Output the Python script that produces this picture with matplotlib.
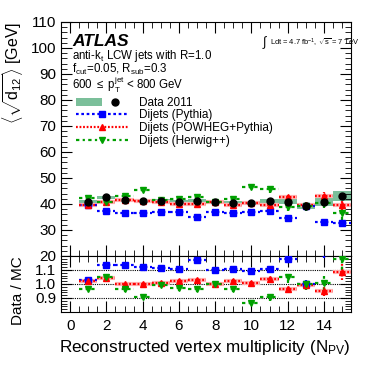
import numpy as np
import matplotlib
matplotlib.use('Agg')
import matplotlib.pyplot as plt
from matplotlib.lines import Line2D
from matplotlib.patches import Patch
from matplotlib.legend_handler import HandlerTuple
from matplotlib.ticker import MultipleLocator, FixedLocator

plt.rcParams['font.family'] = ['Liberation Sans', 'DejaVu Sans']
plt.rcParams['mathtext.fontset'] = 'custom'
plt.rcParams['mathtext.rm'] = 'Liberation Sans'
plt.rcParams['mathtext.it'] = 'Liberation Sans:italic'
plt.rcParams['mathtext.bf'] = 'Liberation Sans:bold'

# number of reconstructed vertices (bin centres)
npv = [1, 2, 3, 4, 5, 6, 7, 8, 9, 10, 11, 12, 13, 14, 15]

# data 2011: mean sqrt(d12), stat. error, systematic band half-height
data = [40.6, 42.5, 41.5, 41.1, 41.2, 40.8, 41.2, 40.7, 40.4, 40.4, 41.2, 40.9, 39.2, 40.7, 43.0]
data_stat = [0.3, 0.3, 0.3, 0.3, 0.3, 0.3, 0.3, 0.3, 0.3, 0.4, 0.4, 0.5, 0.6, 0.8, 1.0]
data_syst = [0.8, 0.7, 0.7, 0.6, 0.6, 0.6, 0.6, 0.6, 0.6, 0.7, 0.8, 1.0, 1.2, 1.6, 1.9]

# Monte Carlo
pythia = [39.6, 37.4, 36.5, 36.6, 37.1, 36.8, 35.1, 37.1, 36.5, 37.1, 37.3, 34.8, 39.2, 33.1, 32.5]
pythia_err = [0.4, 0.4, 0.4, 0.4, 0.4, 0.4, 0.5, 0.5, 0.5, 0.6, 0.6, 0.8, 1.0, 1.2, 1.5]
powheg = [39.8, 40.9, 41.5, 41.1, 40.9, 40.0, 40.1, 40.7, 39.6, 40.2, 39.8, 42.5, 39.6, 43.0, 39.6]
powheg_err = [0.4, 0.4, 0.4, 0.5, 0.5, 0.5, 0.6, 0.6, 0.7, 0.7, 0.8, 1.0, 1.2, 1.5, 2.0]
herwig = [42.2, 40.6, 43.2, 45.4, 41.5, 42.0, 42.8, 40.7, 41.9, 46.6, 45.6, 38.9, 39.2, 40.5, 36.4]
herwig_err = [0.6, 0.6, 0.7, 0.7, 0.7, 0.8, 0.9, 0.9, 1.0, 1.0, 1.2, 1.6, 1.8, 2.2, 2.5]

GREEN_BAND = '#7bbf9a'
C_PYTHIA = '#0000ff'
C_POWHEG = '#ff0000'
C_HERWIG = '#00a000'

LS_PYTHIA = (0, (1.2, 1.2))
LS_POWHEG = (0, (0.8, 0.8))
LS_HERWIG = (0, (1.5, 1.5, 1, 1.5))

x = np.array(npv, dtype=float)
data = np.array(data)


def draw_mc(ax, xv, yv, err, color, ls, marker, ms, pink=False):
    if pink:
        ax.errorbar(xv, yv, xerr=0.5, fmt='none', ecolor='#ffb4b4', elinewidth=3, zorder=2)
    eb = ax.errorbar(xv, yv, xerr=0.5, yerr=err, fmt=marker, color=color, ms=ms,
                     ecolor=color, elinewidth=1.6, capsize=0, zorder=4)
    for lc in eb[2]:
        lc.set_linestyle(ls)
    return eb


fig = plt.figure(figsize=(3.82, 3.67), dpi=100)
ax = fig.add_axes([0.160, 0.3025, 0.759, 0.6376])
rx = fig.add_axes([0.160, 0.150, 0.759, 0.1526], sharex=ax)

# main panel
ax.bar(x, 2 * np.array(data_syst), bottom=data - np.array(data_syst), width=1.0,
       color=GREEN_BAND, edgecolor='none', zorder=1)
draw_mc(ax, x, pythia, pythia_err, C_PYTHIA, LS_PYTHIA, 's', 4.5)
draw_mc(ax, x, powheg, powheg_err, C_POWHEG, LS_POWHEG, '^', 4.5, pink=True)
draw_mc(ax, x, herwig, herwig_err, C_HERWIG, LS_HERWIG, 'v', 4.5)
ax.errorbar(x, data, yerr=data_stat, fmt='o', color='k', ms=5, elinewidth=1, capsize=0, zorder=6)

ax.set_xlim(-0.5, 15.5)
ax.set_ylim(20, 110)
ax.yaxis.set_major_locator(MultipleLocator(10))
ax.yaxis.set_minor_locator(MultipleLocator(2))
ax.xaxis.set_major_locator(MultipleLocator(2))
ax.xaxis.set_minor_locator(MultipleLocator(0.5))
ax.tick_params(labelbottom=False)

ax.text(0.038, 0.915, 'ATLAS', transform=ax.transAxes, fontsize=12.5,
        fontweight='bold', fontstyle='italic', va='center')
ax.text(0.038, 0.855, r'anti-k$_{\rm t}$ LCW jets with R=1.0', transform=ax.transAxes,
        fontsize=8.3, va='center')
ax.text(0.038, 0.797, r'f$_{\rm cut}$=0.05, R$_{\rm sub}$=0.3', transform=ax.transAxes,
        fontsize=8.3, va='center')
ax.text(0.038, 0.733, r'600 $\leq$ p$_{\rm T}^{\rm jet}$ < 800 GeV', transform=ax.transAxes,
        fontsize=8.3, va='center')
ax.text(0.693, 0.91, r'$\int$', transform=ax.transAxes, fontsize=9, va='center')
ax.text(0.722, 0.91, r'Ldt = 4.7 fb$^{-1}$, $\sqrt{\rm s}$ = 7 TeV',
        transform=ax.transAxes, fontsize=5.4, va='center')

handles = [
    (Patch(facecolor=GREEN_BAND, edgecolor='none'),
     Line2D([], [], ls='none', marker='o', color='k', ms=5)),
    Line2D([], [], color=C_PYTHIA, ls=LS_PYTHIA, lw=1.6, marker='s', ms=4.5),
    Line2D([], [], color=C_POWHEG, ls=LS_POWHEG, lw=1.6, marker='^', ms=4.5),
    Line2D([], [], color=C_HERWIG, ls=LS_HERWIG, lw=1.6, marker='v', ms=4.5),
]
labels = ['Data 2011', 'Dijets (Pythia)', 'Dijets (POWHEG+Pythia)', 'Dijets (Herwig++)']
ax.legend(handles, labels, loc='upper left', bbox_to_anchor=(0.052, 0.68), frameon=False,
          fontsize=8.5, handlelength=4.4, handletextpad=0.9, labelspacing=0.05,
          borderpad=0, borderaxespad=0, handler_map={tuple: HandlerTuple(ndivide=None, pad=0)})

ax.set_ylabel(r'$\langle\sqrt{{\rm d}_{12}}\rangle$ [GeV]', fontsize=11.5, loc='top')
ax.yaxis.set_label_coords(-0.125, 1.0)

# ratio panel
for lvl in [0.9, 1.0, 1.1]:
    rx.axhline(lvl, color='k', ls=(0, (1, 1)), lw=0.8, zorder=1)


def ratio(mc, err):
    mc = np.array(mc)
    r = data / mc
    return r, r * np.array(err) / mc


r, e = ratio(pythia, pythia_err)
draw_mc(rx, x, r, e, C_PYTHIA, LS_PYTHIA, 's', 4.5)
r, e = ratio(powheg, powheg_err)
draw_mc(rx, x, r, e, C_POWHEG, LS_POWHEG, '^', 4.5, pink=True)
r, e = ratio(herwig, herwig_err)
draw_mc(rx, x, r, e, C_HERWIG, LS_HERWIG, 'v', 4.5)

rx.set_ylim(0.8, 1.2)
rx.yaxis.set_major_locator(FixedLocator([0.9, 1.0, 1.1]))
rx.yaxis.set_minor_locator(MultipleLocator(0.02))
rx.set_ylabel('Data / MC', fontsize=11, loc='top')
rx.yaxis.set_label_coords(-0.125, 1.0)
rx.set_xlabel(r'Reconstructed vertex multiplicity (N$_{\rm PV}$)', fontsize=12.3, loc='right')

for a in (ax, rx):
    a.tick_params(which='both', direction='in', top=True, right=True, labelsize=11)
    a.tick_params(which='major', length=8)
    a.tick_params(which='minor', length=4)
rx.tick_params(axis='x', pad=5)

fig.savefig('out.png', dpi=100)
